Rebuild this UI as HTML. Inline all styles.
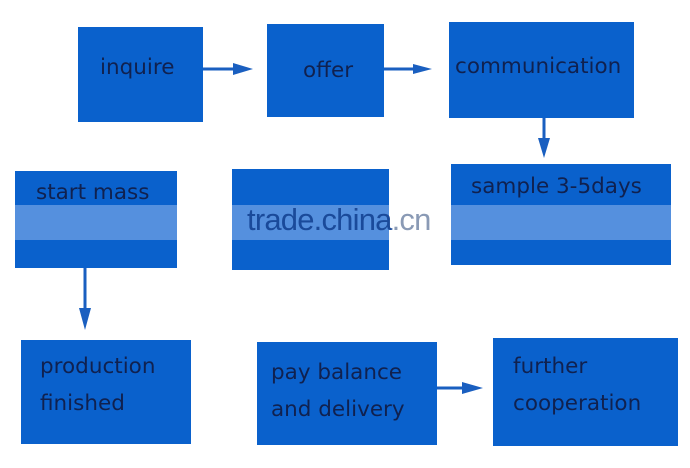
<!DOCTYPE html>
<html><head><style>
body{margin:0;width:690px;height:468px;background:#fff;position:relative;overflow:hidden;font-family:"DejaVu Sans","Liberation Sans",sans-serif;}
.b{position:absolute;background:#0a61cc;color:#10214f;font-size:21.5px;line-height:37px;box-sizing:border-box;white-space:nowrap;}
.band{position:absolute;top:205px;height:35px;background:#5590de;}
svg{position:absolute;left:0;top:0}
</style></head><body>
<div class="b" style="left:78px;top:27px;width:125px;height:95px;padding:22px 0 0 22px">inquire</div>
<div class="b" style="left:267px;top:24px;width:117px;height:93px;padding:28px 0 0 36px">offer</div>
<div class="b" style="left:449px;top:22px;width:185px;height:96px;padding:26px 0 0 6px">communication</div>
<div class="b" style="left:451px;top:164px;width:220px;height:101px;padding:4px 0 0 20px">sample 3-5days</div>
<div class="b" style="left:15px;top:171px;width:162px;height:97px;padding:3px 0 0 21px">start mass</div>
<div class="b" style="left:232px;top:169px;width:157px;height:101px"></div>
<div class="b" style="left:21px;top:340px;width:170px;height:104px;padding:8px 0 0 19px">production<br>finished</div>
<div class="b" style="left:257px;top:342px;width:180px;height:103px;padding:12px 0 0 14px">pay balance<br>and delivery</div>
<div class="b" style="left:493px;top:338px;width:185px;height:108px;padding:10px 0 0 20px">further<br>cooperation</div>
<div class="band" style="left:15px;width:162px"></div>
<div class="band" style="left:232px;width:157px"></div>
<div class="band" style="left:451px;width:220px"></div>
<div style="position:absolute;left:247px;top:202px;font-family:'Liberation Sans',sans-serif;font-size:31px;color:#1a4a9a;letter-spacing:-0.8px;white-space:nowrap">trade.china<span style="color:#8a9ab5">.cn</span></div>
<svg width="690" height="468">
<g stroke="#1a5fc0" stroke-width="3" fill="#1a5fc0">
<line x1="203" y1="69" x2="235" y2="69"/><polygon points="233,63 253,69 233,75" stroke="none"/>
<line x1="384" y1="69" x2="415" y2="69"/><polygon points="413,64 432,69 413,74" stroke="none"/>
<line x1="544" y1="118" x2="544" y2="140"/><polygon points="538,138 544,158 550,138" stroke="none"/>
<line x1="85" y1="268" x2="85" y2="310"/><polygon points="79,308 85,330 91,308" stroke="none"/>
<line x1="437" y1="388" x2="464" y2="388"/><polygon points="462,382 483,388 462,394" stroke="none"/>
</g></svg>
</body></html>
